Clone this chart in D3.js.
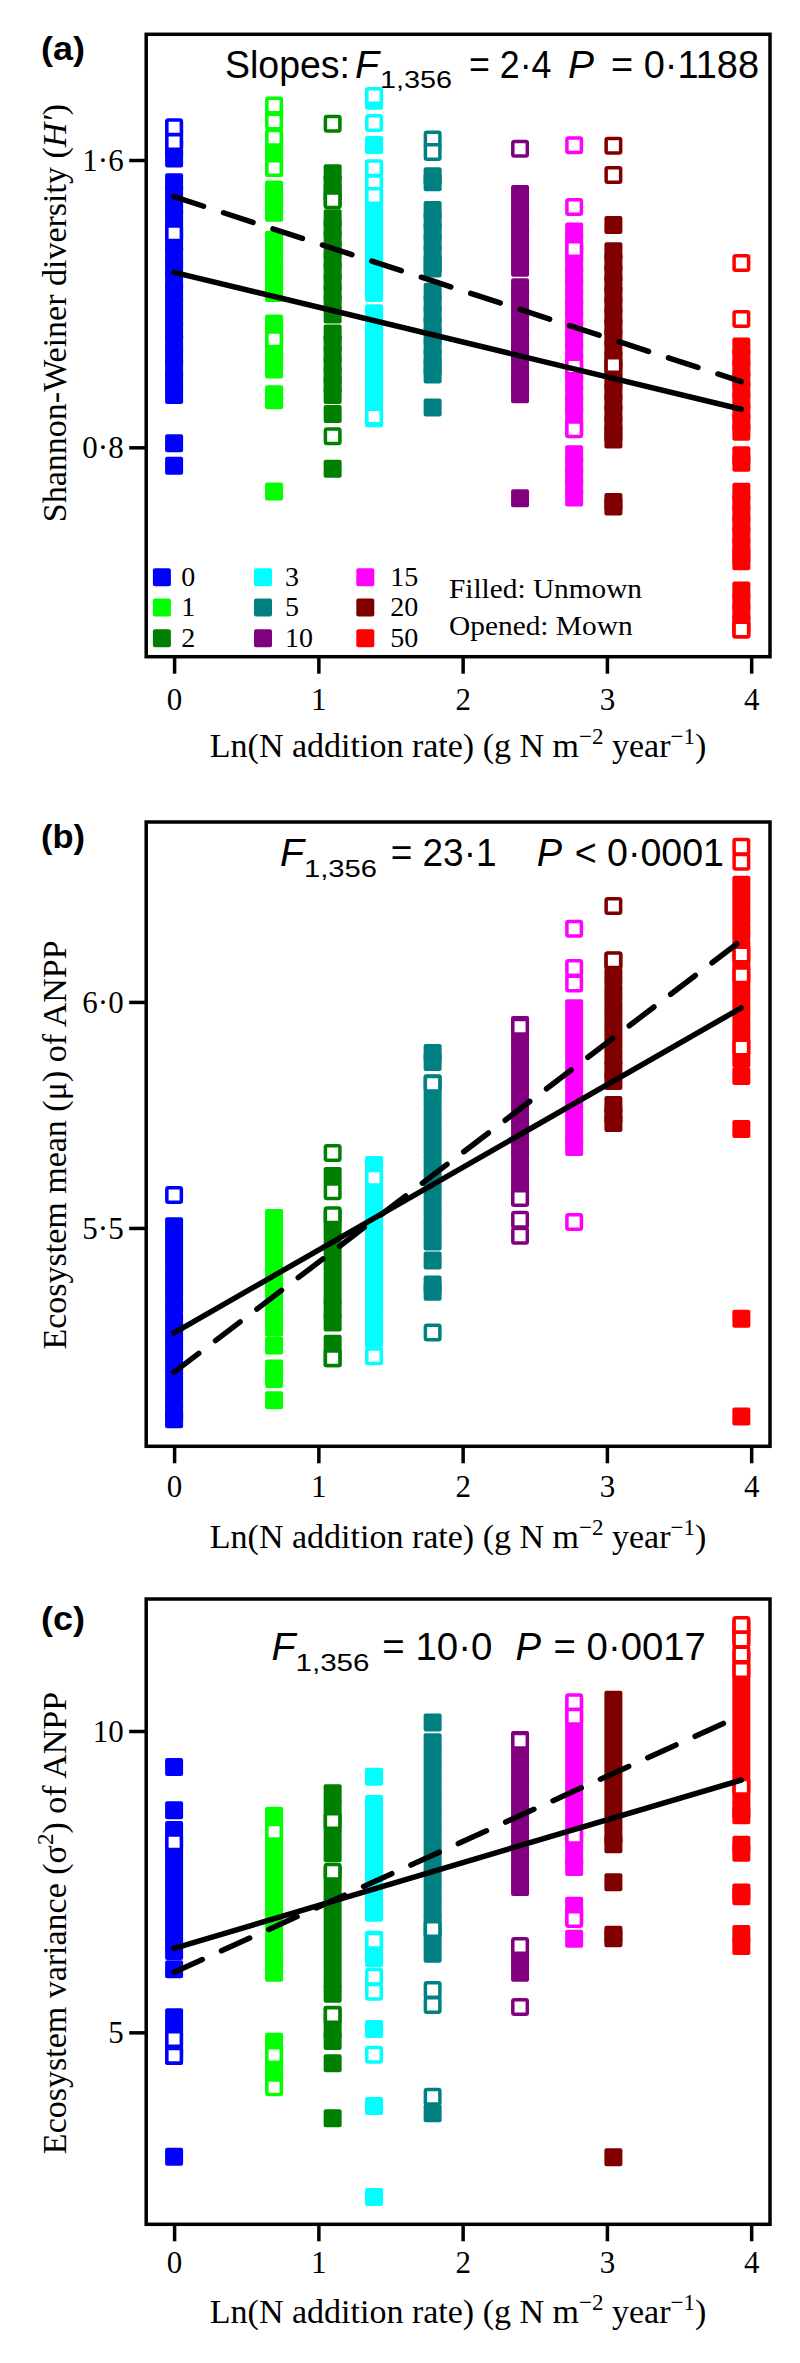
<!DOCTYPE html>
<html><head><meta charset="utf-8">
<script src="https://cdn.jsdelivr.net/npm/d3@7"></script>
<style>body{margin:0;background:#fff} svg{display:block}</style>
</head><body><svg id="c" width="800" height="2363"></svg>
<script>
// ---------------- data ----------------
const categories = [0, 1, 2, 3, 5, 10, 15, 20, 50];
const lnRate = [0, 0.693, 1.099, 1.386, 1.792, 2.398, 2.773, 3.045, 3.932];
const colors = ["#0000FF", "#00FF00", "#008000", "#00FFFF", "#008080", "#800080", "#FF00FF", "#800000", "#FF0000"];
const xTicks = [0, 1, 2, 3, 4];

// (a) Shannon-Weiner diversity
const hUnmown = [
  [1.688, 1.66, 1.632, 1.604, 1.538, 1.505, 1.47, 1.44, 1.405, 1.37, 1.335, 1.30, 1.265, 1.23, 1.195, 1.16, 1.125, 1.09, 1.055, 1.02, 0.985, 0.946, 0.811, 0.749],
  [1.728, 1.659, 1.632, 1.605, 1.578, 1.518, 1.495, 1.474, 1.453, 1.378, 1.35, 1.32, 1.29, 1.26, 1.23, 1.145, 1.12, 1.095, 1.07, 1.045, 1.017, 0.948, 0.931, 0.677],
  [1.563, 1.535, 1.51, 1.492, 1.438, 1.41, 1.38, 1.35, 1.32, 1.29, 1.26, 1.23, 1.20, 1.17, 1.117, 1.09, 1.06, 1.03, 1.0, 0.975, 0.946, 0.893, 0.740],
  [1.765, 1.642, 1.575, 1.545, 1.515, 1.485, 1.455, 1.425, 1.395, 1.365, 1.335, 1.305, 1.275, 1.25, 1.23, 1.173, 1.14, 1.11, 1.075, 1.045, 1.0, 0.97, 0.94, 0.91, 0.881],
  [1.555, 1.538, 1.461, 1.43, 1.40, 1.37, 1.34, 1.31, 1.298, 1.233, 1.20, 1.17, 1.14, 1.11, 1.08, 1.05, 1.025, 1.003, 0.911],
  [1.505, 1.475, 1.445, 1.415, 1.385, 1.355, 1.325, 1.30, 1.246, 1.215, 1.185, 1.155, 1.125, 1.095, 1.065, 1.035, 1.005, 0.975, 0.948, 0.658],
  [1.401, 1.37, 1.34, 1.31, 1.28, 1.25, 1.22, 1.19, 1.16, 1.13, 1.10, 1.07, 1.04, 1.01, 0.98, 0.95, 0.92, 0.89, 0.854, 0.781, 0.75, 0.72, 0.69, 0.66],
  [1.419, 1.346, 1.315, 1.285, 1.255, 1.225, 1.195, 1.165, 1.135, 1.105, 1.075, 1.045, 1.015, 0.985, 0.955, 0.925, 0.895, 0.865, 0.84, 0.822, 0.648, 0.635],
  [1.081, 1.05, 1.02, 0.99, 0.96, 0.93, 0.90, 0.87, 0.843, 0.778, 0.757, 0.676, 0.645, 0.615, 0.585, 0.555, 0.525, 0.50, 0.483, 0.401, 0.37, 0.34, 0.31, 0.293]
];
const hMown = [
  [1.691, 1.650, 1.396],
  [1.752, 1.707, 1.662, 1.578, 1.101],
  [1.701, 1.488, 0.831],
  [1.778, 1.703, 1.577, 1.535, 1.500, 0.886],
  [1.657, 1.622],
  [1.631],
  [1.641, 1.469, 1.352, 1.025, 0.850],
  [1.640, 1.558, 1.029],
  [1.313, 1.157, 0.293]
];
const hTicks = [0.8, 1.6];
const hTickLabels = ["0·8", "1·6"];
const hFitSolid = [1.287, 0.906];
const hFitDashed = [1.498, 0.983];

// (b) Ecosystem mean of ANPP
const muUnmown = [
  [5.504, 5.47, 5.435, 5.40, 5.365, 5.33, 5.295, 5.26, 5.225, 5.19, 5.155, 5.12, 5.09, 5.077],
  [5.522, 5.49, 5.455, 5.42, 5.385, 5.35, 5.315, 5.28, 5.24, 5.189, 5.166, 5.119],
  [5.615, 5.522, 5.49, 5.455, 5.42, 5.385, 5.35, 5.32, 5.291, 5.244, 5.212],
  [5.639, 5.605, 5.57, 5.535, 5.50, 5.465, 5.43, 5.395, 5.36, 5.325, 5.29, 5.255, 5.217],
  [5.887, 5.867, 5.820, 5.785, 5.75, 5.715, 5.68, 5.645, 5.61, 5.575, 5.54, 5.505, 5.47, 5.428, 5.375, 5.359],
  [5.949, 5.915, 5.88, 5.845, 5.81, 5.775, 5.74, 5.705, 5.67, 5.635, 5.60, 5.568],
  [5.986, 5.95, 5.915, 5.88, 5.845, 5.81, 5.775, 5.74, 5.705, 5.679],
  [6.091, 6.055, 6.02, 5.985, 5.95, 5.915, 5.88, 5.85, 5.825, 5.772, 5.75, 5.732],
  [6.259, 6.225, 6.19, 6.155, 6.12, 6.085, 6.05, 6.015, 5.98, 5.945, 5.91, 5.875, 5.836, 5.719, 5.299, 5.083]
];
const muMown = [
  [5.573],
  [],
  [5.666, 5.581, 5.528, 5.212],
  [5.611, 5.216],
  [5.819, 5.269],
  [5.945, 5.566, 5.518, 5.483],
  [6.162, 6.075, 6.041, 5.513],
  [6.212, 6.092],
  [6.343, 6.310, 6.105, 6.059, 5.899]
];
const muTicks = [5.5, 6.0];
const muTickLabels = ["5·5", "6·0"];
const muFitSolid = [5.268, 5.987];
const muFitDashed = [5.181, 6.136];

// (c) Ecosystem variance of ANPP
const varUnmown = [
  [9.403, 8.684, 8.357, 8.10, 7.85, 7.60, 7.35, 7.10, 6.85, 6.60, 6.35, 6.046, 5.25, 5.0, 4.75, 4.607, 2.937],
  [8.595, 8.35, 8.10, 7.85, 7.60, 7.35, 7.10, 6.85, 6.60, 6.35, 6.17, 5.99, 4.845, 4.60, 4.35, 4.148],
  [8.966, 8.72, 8.47, 8.22, 7.971, 7.616, 7.37, 7.12, 6.87, 6.62, 6.37, 6.12, 5.87, 5.641, 5.293, 5.05, 4.856, 4.486, 3.574],
  [9.242, 8.789, 8.54, 8.29, 8.04, 7.79, 7.54, 7.29, 7.04, 6.985, 6.537, 6.35, 6.228, 5.056, 3.778, 2.268],
  [10.14, 9.812, 9.56, 9.31, 9.06, 8.81, 8.56, 8.31, 8.06, 7.81, 7.56, 7.31, 7.06, 6.81, 6.56, 6.305, 3.657],
  [9.851, 9.60, 9.35, 9.10, 8.85, 8.60, 8.35, 8.10, 7.85, 7.60, 7.412, 6.395, 6.19, 5.99],
  [10.42, 10.17, 9.92, 9.67, 9.42, 9.17, 8.92, 8.67, 8.42, 8.17, 7.92, 7.743, 7.101, 6.914, 6.554],
  [10.52, 10.27, 10.02, 9.77, 9.52, 9.27, 9.02, 8.77, 8.52, 8.27, 8.12, 7.489, 6.62, 6.56, 2.927],
  [11.71, 11.576, 11.195, 10.95, 10.70, 10.45, 10.20, 9.95, 9.70, 9.45, 9.20, 8.95, 8.70, 8.60, 8.113, 7.98, 7.32, 7.26, 6.632, 6.433]
];
const varMown = [
  [8.153, 4.89, 4.613],
  [8.33, 4.624, 4.088],
  [8.507, 7.666, 5.288],
  [6.521, 5.923, 5.674, 4.63],
  [6.715, 5.703, 5.454, 3.932],
  [9.839, 6.433, 5.421],
  [10.476, 10.237, 8.263, 6.88],
  [],
  [11.76, 11.52, 11.27, 11.01, 9.076]
];
const varTicks = [5, 10];
const varTickLabels = ["5", "10"];
const varFitSolid = [6.394, 9.187];
const varFitDashed = [5.996, 10.26];

const fitX = [0, 3.932];

// ---------------- drawing ----------------
const SANS = "'Liberation Sans', Arial, Helvetica, sans-serif";
const SERIF = "'Liberation Serif', 'Times New Roman', Times, serif";
const svg = d3.select("#c");
const LEFT = 146.2, RIGHT = 770;
const x = d3.scaleLinear().domain([-0.1934, 4.1305]).range([LEFT, RIGHT]);

const panels = [
  { label: "(a)", labelY: 60, filled: hUnmown, open: hMown, ticks: hTicks, tickLabels: hTickLabels,
    fitSolid: hFitSolid, fitDashed: hFitDashed, domain: [0.217, 1.950], top: 34.3, bottom: 656.7,
    xLabY: 710, xTitleY: 757, yTitleY: 313, yTitle: "a",
    stats: { base: 78.3, sub: 88.3, pieces: [
      ["Slopes:", "n", 225, 125], ["F", "i", 355, 24], ["1,356", "s", 380, 72],
      ["= 2·4", "n", 469, 82.5], ["P", "i", 568, 26], ["= 0·1188", "n", 611, 148]] } },
  { label: "(b)", labelY: 848.3, filled: muUnmown, open: muMown, ticks: muTicks, tickLabels: muTickLabels,
    fitSolid: muFitSolid, fitDashed: muFitDashed, domain: [5.017, 6.398], top: 822, bottom: 1446.3,
    xLabY: 1497, xTitleY: 1548, yTitleY: 1145, yTitle: "b",
    stats: { base: 866, sub: 877, pieces: [
      ["F", "i", 280, 24], ["1,356", "s", 304, 73], ["= 23·1", "n", 390.7, 105.8],
      ["P", "i", 536.7, 25.3], ["< 0·0001", "n", 574.7, 149.3]] } },
  { label: "(c)", labelY: 1630, filled: varUnmown, open: varMown, ticks: varTicks, tickLabels: varTickLabels,
    fitSolid: varFitSolid, fitDashed: varFitDashed, domain: [1.815, 12.19], top: 1599, bottom: 2224.3,
    xLabY: 2273, xTitleY: 2323, yTitleY: 1923, yTitle: "c",
    stats: { base: 1660, sub: 1671, pieces: [
      ["F", "i", 271.4, 24], ["1,356", "s", 295.5, 74], ["= 10·0", "n", 382.3, 110],
      ["P", "i", 515.5, 25.5], ["= 0·0017", "n", 553.6, 152.3]] } }
];

function yTitle(t, key) {
  if (key === "a") {
    t.append("tspan").text("Shannon-Weiner diversity (");
    t.append("tspan").attr("font-style", "italic").text("H′");
    t.append("tspan").text(")");
  } else if (key === "b") {
    t.append("tspan").text("Ecosystem mean (μ) of ANPP");
  } else {
    t.append("tspan").text("Ecosystem variance (σ");
    t.append("tspan").attr("font-size", 23).attr("dy", -13).text("2");
    t.append("tspan").attr("dy", 13).text(") of ANPP");
  }
}

panels.forEach(p => {
  const y = d3.scaleLinear().domain(p.domain).range([p.bottom, p.top]);
  const g = svg.append("g");

  // points
  categories.forEach((c, i) => {
    const cx = x(lnRate[i]);
    g.append("g").selectAll("rect").data(p.filled[i]).join("rect")
      .attr("x", cx - 9).attr("y", d => y(d) - 9)
      .attr("width", 18).attr("height", 18).attr("rx", 2)
      .attr("fill", colors[i]);
    g.append("g").selectAll("rect").data(p.open[i]).join("rect")
      .attr("x", cx - 7.25).attr("y", d => y(d) - 7.25)
      .attr("width", 14.5).attr("height", 14.5).attr("rx", 1.5)
      .attr("fill", "#fff").attr("stroke", colors[i]).attr("stroke-width", 3.5);
  });

  // fitted lines
  const line = d3.line().x(d => x(d[0])).y(d => y(d[1]));
  g.append("path").attr("d", line(fitX.map((v, k) => [v, p.fitSolid[k]])))
    .attr("fill", "none").attr("stroke", "#000").attr("stroke-width", 5.5).attr("stroke-linecap", "round");
  g.append("path").attr("d", line(fitX.map((v, k) => [v, p.fitDashed[k]])))
    .attr("fill", "none").attr("stroke", "#000").attr("stroke-width", 5.5).attr("stroke-linecap", "round")
    .attr("stroke-dasharray", "31,21");

  // box
  g.append("rect").attr("x", LEFT).attr("y", p.top).attr("width", RIGHT - LEFT).attr("height", p.bottom - p.top)
    .attr("fill", "none").attr("stroke", "#000").attr("stroke-width", 3.5);

  // x axis
  const xa = g.append("g").attr("transform", `translate(0,${p.bottom})`)
    .call(d3.axisBottom(x).tickValues(xTicks).tickSize(17).tickFormat(d3.format("d")));
  xa.select(".domain").remove();
  xa.selectAll("line").attr("stroke", "#000").attr("stroke-width", 3.5);
  xa.selectAll("text").attr("y", p.xLabY - p.bottom).attr("dy", null)
    .attr("font-family", SERIF).attr("font-size", 31).attr("fill", "#000");

  // y axis
  const ya = g.append("g").attr("transform", `translate(${LEFT},0)`)
    .call(d3.axisLeft(y).tickValues(p.ticks).tickSize(17).tickPadding(5.5).tickFormat((d, i) => p.tickLabels[i]));
  ya.select(".domain").remove();
  ya.selectAll("line").attr("stroke", "#000").attr("stroke-width", 3.5);
  ya.selectAll("text").attr("dy", "0.33em")
    .attr("font-family", SERIF).attr("font-size", 31).attr("fill", "#000");

  // x title
  const xt = g.append("text").attr("x", (LEFT + RIGHT) / 2).attr("y", p.xTitleY)
    .attr("text-anchor", "middle").attr("font-family", SERIF).attr("font-size", 34).attr("fill", "#000");
  xt.append("tspan").text("Ln(N addition rate) (g N m");
  xt.append("tspan").attr("font-size", 23).attr("dy", -13).text("−2");
  xt.append("tspan").attr("dy", 13).text(" year");
  xt.append("tspan").attr("font-size", 23).attr("dy", -13).text("−1");
  xt.append("tspan").attr("dy", 13).text(")");

  // y title
  const yt = g.append("text").attr("transform", `translate(66,${p.yTitleY}) rotate(-90)`)
    .attr("text-anchor", "middle").attr("font-family", SERIF).attr("font-size", 34).attr("fill", "#000");
  yTitle(yt, p.yTitle);

  // panel label
  g.append("text").attr("x", 41).attr("y", p.labelY).attr("font-family", SANS).attr("font-weight", "bold")
    .attr("font-size", 33).attr("textLength", 44).attr("lengthAdjust", "spacingAndGlyphs").text(p.label);

  // statistics text
  p.stats.pieces.forEach(([txt, kind, px, w]) => {
    g.append("text").attr("x", px).attr("y", kind === "s" ? p.stats.sub : p.stats.base)
      .attr("font-family", SANS).attr("font-size", kind === "s" ? 24 : 38)
      .attr("font-style", kind === "i" ? "italic" : "normal")
      .attr("textLength", w).attr("lengthAdjust", "spacingAndGlyphs")
      .attr("fill", "#000").text(txt);
  });
});

// legend (panel a)
const legendColX = [161.9, 263, 365.3];
const legendRowY = [577.2, 607.5, 638.3];
const legendTextOff = [19.4, 22, 25];
const lg = svg.append("g");
categories.forEach((c, i) => {
  const col = Math.floor(i / 3), row = i % 3;
  const cx = legendColX[col], cy = legendRowY[row];
  lg.append("rect").attr("x", cx - 9).attr("y", cy - 9).attr("width", 18).attr("height", 18).attr("rx", 2).attr("fill", colors[i]);
  lg.append("text").attr("x", cx + legendTextOff[col]).attr("y", cy + 8.5)
    .attr("font-family", SERIF).attr("font-size", 28).attr("fill", "#000").text(c);
});
lg.append("text").attr("x", 449).attr("y", 598.3).attr("font-family", SERIF).attr("font-size", 28)
  .attr("textLength", 193).attr("lengthAdjust", "spacingAndGlyphs").text("Filled: Unmown");
lg.append("text").attr("x", 449).attr("y", 635).attr("font-family", SERIF).attr("font-size", 28)
  .attr("textLength", 183.6).attr("lengthAdjust", "spacingAndGlyphs").text("Opened: Mown");
</script>
</body></html>
